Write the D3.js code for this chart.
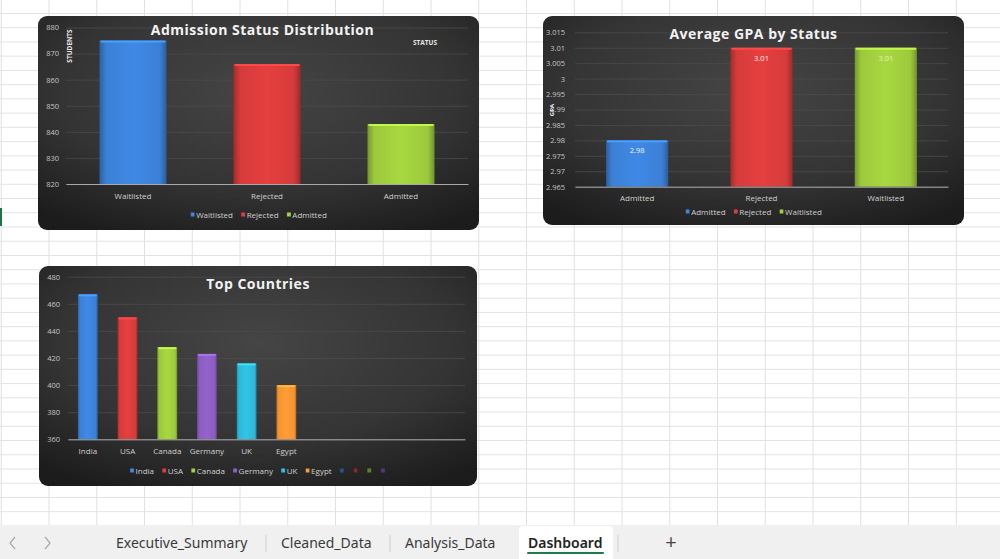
<!DOCTYPE html>
<html>
<head>
<meta charset="utf-8">
<script src="https://cdn.jsdelivr.net/npm/d3@7"></script>
<style>
  body { margin: 0; background: #fff; overflow: hidden; }
  svg { display: block; }
  text { font-family: "Open Sans", "Noto Sans", sans-serif; }
</style>
</head>
<body>
<svg id="sheet" width="1000" height="559"></svg>
<script>
// --- data ---
const statusNames = ["Waitlisted", "Rejected", "Admitted"]
const statusCounts = [875, 866, 843]
const countTicks = [820, 830, 840, 850, 860, 870, 880]

const gpaNames = ["Admitted", "Rejected", "Waitlisted"]
const gpaValues = [2.98, 3.01, 3.01]
const gpaTicks = [2.965, 2.97, 2.975, 2.98, 2.985, 2.99, 2.995, 3, 3.005, 3.01, 3.015]

const countryNames = ["India", "USA", "Canada", "Germany", "UK", "Egypt"]
const countryCounts = [467, 450, 428, 423, 416, 400]
const countryTicks = [360, 380, 400, 420, 440, 460, 480]
// empty series that excel still lists in the legend
const emptySlots = ["", "", "", ""]

const sheetTabs = ["Executive_Summary", "Cleaned_Data", "Analysis_Data", "Dashboard"]

// excel colours go by position, not by name
const palette = ["#3b80d6", "#d63b3b", "#9cc93c", "#8a5cbf", "#2db7d8", "#f59331"]
const emptyColors = ["#234f85", "#8a2424", "#627d22", "#4e3575"]

const svg = d3.select("#sheet")
const defs = svg.append("defs")

// panel background
const pg = defs.append("radialGradient").attr("id", "panelBg")
  .attr("cx", "50%").attr("cy", "35%").attr("r", "75%")
pg.append("stop").attr("offset", "0%").attr("stop-color", "#454545")
pg.append("stop").attr("offset", "60%").attr("stop-color", "#343434")
pg.append("stop").attr("offset", "100%").attr("stop-color", "#1c1c1c")

const gradIds = {}
function barGrad(c) {
  if (gradIds[c]) return gradIds[c]
  const id = "g" + c.slice(1)
  const base = d3.color(c)
  const g = defs.append("linearGradient").attr("id", id)
    .attr("x1", 0).attr("x2", 1).attr("y1", 0).attr("y2", 0)
  g.append("stop").attr("offset", "0%").attr("stop-color", base.darker(0.8))
  g.append("stop").attr("offset", "10%").attr("stop-color", base)
  g.append("stop").attr("offset", "50%").attr("stop-color", base.brighter(0.2))
  g.append("stop").attr("offset", "90%").attr("stop-color", base)
  g.append("stop").attr("offset", "100%").attr("stop-color", base.darker(0.9))
  gradIds[c] = "url(#" + id + ")"
  return gradIds[c]
}

// --- spreadsheet cell grid ---
const grid = svg.append("g")
for (let k = -1; k < 21; k++) {
  const x = 49 + 47.75 * k
  grid.append("line").attr("x1", x).attr("x2", x).attr("y1", 0).attr("y2", 525)
    .attr("stroke", "#e0e0e0")
}
for (let k = -16; k < 21; k++) {
  const y = 227 + 14.235 * k
  grid.append("line").attr("x1", 0).attr("x2", 1000).attr("y1", y).attr("y2", y)
    .attr("stroke", "#e3e3e3")
}
grid.append("rect").attr("x", 0).attr("y", 208).attr("width", 2).attr("height", 18).attr("fill", "#217346")

function drawChart(o) {
  const g = svg.append("g")

  g.append("rect")
    .attr("x", o.x).attr("y", o.y).attr("width", o.w).attr("height", o.h)
    .attr("rx", 9).attr("fill", "url(#panelBg)")

  const y = d3.scaleLinear().domain(o.yDomain).range(o.yRange)
  const x = d3.scaleBand().domain(d3.range(o.slots)).range(o.xRange)
    .paddingInner(0.5).paddingOuter(0.25)

  // gridlines
  g.append("g")
    .attr("transform", "translate(" + o.xRange[0] + ",0)")
    .call(d3.axisLeft(y).tickValues(o.ticks).tickSize(-(o.xRange[1] - o.xRange[0])).tickFormat(""))
    .call(s => s.select(".domain").remove())
    .call(s => s.selectAll("line").attr("stroke", "#4b4b4b").attr("stroke-width", 0.8))

  // tick labels
  g.append("g")
    .attr("transform", "translate(" + o.labelX + ",0)")
    .call(d3.axisLeft(y).tickValues(o.ticks).tickSize(0).tickPadding(0).tickFormat(o.fmt))
    .call(s => s.select(".domain").remove())
    .call(s => s.selectAll("text").attr("fill", "#c4c4c4").attr("font-size", 7.5)
      .style("font-family", "'Open Sans', sans-serif"))

  // bars
  const bars = g.append("g")
  bars.selectAll("rect.bar")
    .data(o.values)
    .join("rect")
    .attr("class", "bar")
    .attr("x", (d, i) => x(i))
    .attr("width", x.bandwidth())
    .attr("y", d => y(d))
    .attr("height", d => y(o.yDomain[0]) - y(d))
    .attr("fill", (d, i) => barGrad(o.colors[i]))
  bars.selectAll("rect.cap")
    .data(o.values)
    .join("rect")
    .attr("class", "cap")
    .attr("x", (d, i) => x(i) + 1)
    .attr("width", x.bandwidth() - 2)
    .attr("y", d => y(d))
    .attr("height", 2)
    .attr("fill", (d, i) => d3.color(o.colors[i]).brighter(0.6))

  if (o.valueLabels) {
    g.append("g").selectAll("text")
      .data(o.values)
      .join("text")
      .attr("x", (d, i) => x(i) + x.bandwidth() / 2)
      .attr("y", d => y(d) + 13)
      .attr("text-anchor", "middle")
      .attr("font-size", 7.5)
      .attr("fill", (d, i) => i === 2 ? "#e6efc4" : "#f4f4f4")
      .text(d => d.toFixed(2))
  }

  // baseline + category labels
  g.append("g")
    .attr("transform", "translate(0," + y(o.yDomain[0]) + ")")
    .call(d3.axisBottom(x).tickSize(0).tickPadding(9).tickFormat(i => o.names[i] || ""))
    .call(s => s.select(".domain").attr("stroke", "#a9a9a9").attr("stroke-width", 1))
    .call(s => s.selectAll("text").attr("fill", "#d0d0d0").attr("font-size", 8)
      .style("font-family", "'Open Sans', sans-serif"))

  // title
  g.append("text")
    .attr("x", o.x + o.w / 2 + (o.titleDx || 0)).attr("y", o.titleY)
    .attr("text-anchor", "middle")
    .attr("font-size", 14).attr("font-weight", 700).attr("letter-spacing", 0.5)
    .attr("fill", "#f2f2f2")
    .text(o.title)

  // legend, centred on the panel
  const lg = g.append("g")
  let cx = 0
  o.legend.forEach((name, i) => {
    const item = lg.append("g").attr("transform", "translate(" + cx + ",0)")
    item.append("rect").attr("x", 0).attr("y", -2.5).attr("width", 4).attr("height", 4)
      .attr("fill", barGrad(o.legendColors[i]))
    const t = item.append("text").attr("x", 5.5).attr("y", 2.8)
      .attr("font-size", 8).attr("fill", "#cfcfcf").text(name)
    cx += 5 + (name ? t.node().getComputedTextLength() : 0) + 8.7
  })
  const lw = cx - 8.7
  lg.attr("transform", "translate(" + (o.x + o.w / 2 - lw / 2) + "," + o.legendY + ")")

  return g
}

// chart 1
const c1 = drawChart({
  x: 38, y: 16, w: 441, h: 214,
  yDomain: [820, 880], yRange: [184, 27.5], ticks: countTicks, fmt: d3.format("d"),
  xRange: [66, 468], labelX: 59, slots: statusNames.length,
  names: statusNames, values: statusCounts, colors: palette,
  title: "Admission Status Distribution", titleY: 35, titleDx: 4,
  legend: statusNames, legendColors: palette,
  legendY: 215
})
c1.append("text").attr("x", 425).attr("y", 45).attr("text-anchor", "middle")
  .attr("font-size", 6.5).attr("font-weight", 700).attr("fill", "#e6e6e6").text("STATUS")
c1.append("text").attr("transform", "translate(72,46) rotate(-90)").attr("text-anchor", "middle")
  .attr("font-size", 6.5).attr("font-weight", 700).attr("fill", "#e6e6e6").text("STUDENTS")

// chart 2
const c2 = drawChart({
  x: 543, y: 16, w: 421, h: 209,
  yDomain: [2.965, 3.015], yRange: [186.7, 32.3], ticks: gpaTicks, fmt: d => String(+d.toFixed(3)),
  xRange: [575, 948], labelX: 565, slots: gpaNames.length,
  names: gpaNames, values: gpaValues, colors: palette,
  valueLabels: true,
  title: "Average GPA by Status", titleY: 39,
  legend: gpaNames, legendColors: palette,
  legendY: 212
})
c2.append("text").attr("transform", "translate(553.5,110) rotate(-90)").attr("text-anchor", "middle")
  .attr("font-size", 6).attr("font-weight", 700).attr("fill", "#e6e6e6").text("GPA")

// chart 3
drawChart({
  x: 39, y: 266, w: 438, h: 220,
  yDomain: [360, 480], yRange: [439.3, 276.7], ticks: countryTicks, fmt: d3.format("d"),
  xRange: [68, 465], labelX: 60, slots: countryNames.length + emptySlots.length,
  names: countryNames, values: countryCounts, colors: palette,
  title: "Top Countries", titleY: 289,
  legend: countryNames.concat(emptySlots), legendColors: palette.concat(emptyColors),
  legendY: 471
})

// --- sheet tab bar ---
const tabs = svg.append("g")
tabs.append("rect").attr("x", 0).attr("y", 525).attr("width", 1000).attr("height", 34).attr("fill", "#f0f0f0")
tabs.append("path")
  .attr("d", "M519,559 L519,530 Q519,526 523,526 L609,526 Q613,526 613,530 L613,559 Z")
  .attr("fill", "#ffffff")
// scroll chevrons
tabs.append("path").attr("d", "M15,537 L10,543 L15,549")
  .attr("fill", "none").attr("stroke", "#a8a8a8").attr("stroke-width", 1.2)
tabs.append("path").attr("d", "M45,537 L50,543 L45,549")
  .attr("fill", "none").attr("stroke", "#a8a8a8").attr("stroke-width", 1.2)
const tabX = [116, 281, 405, 528]
sheetTabs.forEach((name, i) => {
  tabs.append("text").attr("x", tabX[i]).attr("y", 548)
    .attr("font-size", 14).attr("font-weight", i === 3 ? 600 : 400)
    .attr("fill", i === 3 ? "#222" : "#3a3a3a")
    .style("font-family", "'Noto Sans', sans-serif")
    .text(name)
})
;[266, 390, 618].forEach(x => {
  tabs.append("line").attr("x1", x).attr("x2", x).attr("y1", 535).attr("y2", 552)
    .attr("stroke", "#cfcfcf")
})
tabs.append("rect").attr("x", 527).attr("y", 552).attr("width", 77).attr("height", 2)
  .attr("rx", 1).attr("fill", "#1e7b4a")
tabs.append("text").attr("x", 671).attr("y", 549).attr("text-anchor", "middle")
  .attr("font-size", 20).attr("fill", "#444").text("+")
</script>
</body>
</html>
